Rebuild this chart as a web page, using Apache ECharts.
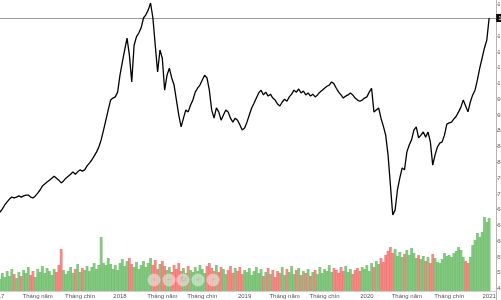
<!DOCTYPE html>
<html><head><meta charset="utf-8">
<script src="https://cdn.jsdelivr.net/npm/echarts@6/dist/echarts.min.js"></script>
<style>html,body{margin:0;padding:0;background:#fff;overflow:hidden}#c{width:501px;height:300px}</style>
</head><body><div id="c"></div>
<script>
// Weekly closes (index points), first week starting 2017-01-02
const prices = [
 669,674,682,692,700,707,712,710,712,715, 712,715,717,717,712,710,715,722,730,740,
 745,750,755,760,765,760,755,748,753,760, 765,770,776,770,776,781,778,781,791,798,
 806,816,826,839,857,882,907,933,958,963, 966,978,
 1021,1054,1085,1115,1072,1004,1097,1118,1128,1141, 1166,1174,1186,1204,1166,1097,1029,1085,1064,983,
 1021,1039,1014,996,958,920,890,912,933,928, 945,958,978,988,996,1009,1021,1014,983,933,
 912,938,928,907,920,933,928,912,902,912, 907,895,
 882,887,902,920,938,950,963,976,983,971, 978,968,973,963,958,948,943,953,960,955,
 966,973,983,978,986,976,981,971,976,968, 973,966,971,978,983,988,993,996,1004,999,
 988,978,971,963,968,971,976,971,963,958, 955,958,
 963,966,978,988,928,933,938,912,892,869, 819,743,667,679,730,760,786,781,826,844,
 857,882,890,862,869,877,864,877,852,793, 819,839,849,852,869,897,900,902,910,917,
 928,940,958,943,928,953,971,983,1009,1039, 1064,1090,1110,1166
];
// Weekly volume (million shares)
const volumes = [
 480,360,540,420,600,450,660,510,390,570, 450,630,540,720,480,600,420,660,570,750,
 540,690,600,480,660,570,780,1260,630,510, 600,720,540,660,810,570,690,630,750,600,
 720,840,660,780,1620,840,780,990,810,660, 780,630,
 840,960,750,900,990,810,720,870,660,780, 900,720,840,990,780,930,660,810,900,750,
 630,720,570,780,660,840,600,690,540,750, 630,570,720,600,780,660,540,750,840,690,
 600,780,570,720,660,510,630,750,540,690, 600,720,
 510,630,570,690,480,600,720,540,660,450, 570,690,510,630,420,600,540,720,480,660,
 570,750,510,630,690,480,600,540,660,450, 570,630,510,720,540,660,600,780,570,690,
 630,540,720,600,750,570,660,510,630,690, 600,720,
 660,780,600,840,720,900,810,990,870,1080, 1200,1320,1140,1260,1050,1170,1020,1110,1230,1080,
 1290,1140,990,1080,960,1050,900,1020,840,1110, 990,870,840,960,1140,1050,1080,1020,1140,1200,
 1320,1230,1020,900,840,1020,1380,1530,1740,1620, 1770,2220,2070,2190
];
const monthLabels = {1: null, 5: 'Tháng năm', 9: 'Tháng chín'};
const firstWeek = '2017-01-02';
const emptyWeeksAtEnd = 3;

const categories = [];
(function () {
  let t = Date.parse(firstWeek + 'T00:00:00Z');
  for (let i = 0; i < prices.length + emptyWeeksAtEnd; i++) {
    categories.push(new Date(t).toISOString().slice(0, 10));
    t += 7 * 864e5;
  }
})();
const lastPrice = prices[prices.length - 1];

function showLabel(idx, val) {
  const m = +val.slice(5, 7), d = +val.slice(8, 10);
  return d <= 7 && (m === 1 || m === 5 || m === 9);
}
function fmtLabel(val) {
  const m = +val.slice(5, 7);
  return monthLabels[m] || val.slice(0, 4);
}

const GL = -2.28, GR = 4.8;
const FONT = 'Liberation Sans, Arial, sans-serif';
const chart = echarts.init(document.getElementById('c'), null, {renderer: 'canvas'});

const btnX = [154, 169, 183, 198, 213];
const btnTxt = ['‹', '−', '↻', '+', '›'];
const graphics = [];
btnX.forEach((x, i) => {
  graphics.push({type: 'circle', shape: {cx: x, cy: 280, r: 6.5}, style: {fill: 'rgba(245,245,245,0.5)'}, z: 100, silent: true});
  graphics.push({type: 'text', x: x, y: 280, style: {text: btnTxt[i], fill: 'rgba(160,160,160,0.5)', font: '8px ' + FONT, align: 'center', verticalAlign: 'middle'}, z: 101, silent: true});
});

chart.setOption({
  animation: false,
  backgroundColor: '#fff',
  grid: [
    {left: GL, right: GR, top: 0, height: 304.4, outerBoundsMode: 'none', containLabel: false},
    {left: GL, right: GR, top: 180, bottom: 9, outerBoundsMode: 'none', containLabel: false}
  ],
  xAxis: [
    {type: 'category', gridIndex: 0, data: categories, boundaryGap: false, show: false},
    {type: 'category', gridIndex: 1, data: categories, boundaryGap: false,
      axisLine: {show: true, lineStyle: {color: '#d0d0d0', width: 1}},
      axisTick: {show: false},
      axisLabel: {interval: showLabel, formatter: fmtLabel, fontSize: 6, color: '#555', margin: 2, fontFamily: FONT}
    }
  ],
  yAxis: [
    {type: 'value', gridIndex: 0, position: 'right', min: 440, max: 1211.6, interval: 40,
      axisLine: {show: true, lineStyle: {color: '#b5b5b5', width: 1}},
      axisTick: {show: true, length: 2, lineStyle: {color: '#b5b5b5'}},
      axisLabel: {fontSize: 6, color: '#666', margin: 1, fontFamily: FONT,
        formatter: v => v.toLocaleString('en-US', {minimumFractionDigits: 2})},
      splitLine: {show: false}
    },
    {type: 'value', gridIndex: 1, min: 0, max: 3330, show: false, splitLine: {show: false}}
  ],
  series: [
    {type: 'bar', xAxisIndex: 1, yAxisIndex: 1, data: volumes, barWidth: 2.8,
      itemStyle: {color: p => (p.dataIndex > 0 && prices[p.dataIndex] < prices[p.dataIndex - 1]) ? 'rgba(240,90,85,0.72)' : 'rgba(90,180,85,0.75)'},
      z: 1
    },
    {type: 'line', xAxisIndex: 0, yAxisIndex: 0, data: prices, showSymbol: false, symbol: 'none',
      lineStyle: {color: '#000', width: 1.3}, z: 5,
      markLine: {silent: true, symbol: ['none', 'none'], animation: false,
        lineStyle: {color: '#9a9a9a', width: 1, type: 'solid'},
        label: {position: 'end', distance: 0, formatter: () => lastPrice.toFixed(2), backgroundColor: '#000', color: '#fff', fontSize: 6, padding: [1, 2], fontFamily: FONT},
        data: [{yAxis: lastPrice}]
      }
    }
  ],
  graphic: graphics
});
</script>
</body></html>
